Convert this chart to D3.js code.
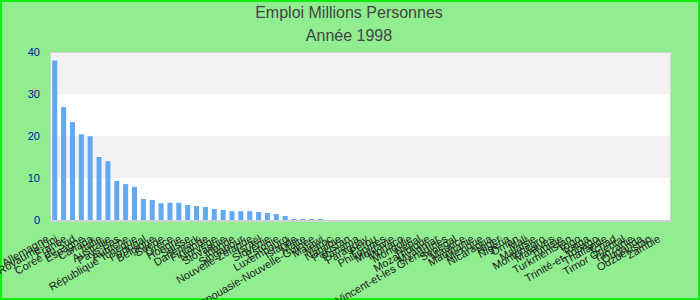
<!DOCTYPE html>
<html><head><meta charset="utf-8">
<script src="https://cdn.jsdelivr.net/npm/d3@7"></script>
<style>html,body{margin:0;padding:0;background:#90ee90;}svg{display:block;}</style>
</head><body>
<svg id="c" width="700" height="300"></svg>
<script>
const categories = ["Allemagne","Royaume-Uni","France","Corée du Sud","Espagne","Canada","Italie","Australie","Pays-Bas","Autriche",
"République Tchèque","Portugal","Belgique","Suède","Grèce","Hongrie","Suisse","Danemark","Finlande","Norvège",
"Slovaquie","Irlande","Singapour","Nouvelle-Zélande","Israël","Slovénie","Estonie","Luxembourg","Islande","Malte",
"Papouasie-Nouvelle-Guinée","Malawi","Maroc","Namibie","Pakistan","Panama","Paraguay","Pérou","Philippines","Moldavie",
"Monaco","Mongolie","Népal","Mozambique","Myanmar","Saint-Vincent-et-les Grenadines","Sénégal","Maurice","Mauritanie","Mexique",
"Nicaragua","Niger","Nigeria","Oman","Mali","Malaisie","Monténégro","Maldives","Tunisie","Turkménistan",
"Togo","Tonga","Trinité-et-Tobago","Thaïlande","Tchad","Timor Oriental","Tanzanie","Ouganda","Ouzbékistan","Zambie"];
const values = [38.0,26.9,23.3,20.4,19.95,15.0,14.0,9.3,8.55,7.9,
5.0,4.75,4.0,4.1,4.1,3.56,3.3,3.1,2.6,2.4,
2.1,2.1,2.1,1.9,1.65,1.4,0.95,0.24,0.24,0.24,
0.24,0,0,0,0,0,0,0,0,0,
0,0,0,0,0,0,0,0,0,0,
0,0,0,0,0,0,0,0,0,0,
0,0,0,0,0,0,0,0,0,0];
const yTicks = [0,10,20,30,40];
const title = "Emploi Millions Personnes";
const subtitle = "Année 1998";

const svg = d3.select("#c");
const W = 700, H = 300;
const L = 50, R = 671, T = 52, B = 220;

svg.append("rect").attr("x",1).attr("y",1).attr("width",W-2).attr("height",H-2)
  .attr("fill","#90ee90").attr("stroke","#11ee11").attr("stroke-width",2);

const x = d3.scaleBand().domain(categories).range([L,R]).paddingInner(0.43).paddingOuter(0.25);
const y = d3.scaleLinear().domain([0,40]).range([B,T]);

// bands
const bands = d3.pairs(yTicks);
svg.append("g").selectAll("rect").data(bands).join("rect")
  .attr("x",L).attr("width",R-L)
  .attr("y",d=>y(d[1])).attr("height",d=>y(d[0])-y(d[1]))
  .attr("fill",(d,i)=> i%2===0 ? "#ffffff" : "#f2f2f2");

svg.append("rect").attr("x",L+0.5).attr("y",T+0.5).attr("width",R-L-1).attr("height",B-T)
  .attr("fill","none").attr("stroke","#d4d4d4").attr("stroke-width",1);

// bars
svg.append("g").selectAll("rect").data(categories).join("rect")
  .attr("x",d=>x(d)).attr("width",x.bandwidth())
  .attr("y",(d,i)=>y(values[i])).attr("height",(d,i)=>B-y(values[i]))
  .attr("fill","#63a9f2");

// x axis line
svg.append("line").attr("x1",L).attr("x2",R).attr("y1",B+1).attr("y2",B+1)
  .attr("stroke","#d0d0d0").attr("stroke-width",2);

// y axis
const ya = svg.append("g").attr("transform",`translate(${L},0)`)
  .call(d3.axisLeft(y).tickValues(yTicks).tickSize(0).tickPadding(10));
ya.select(".domain").remove();
ya.selectAll("text").attr("fill","#0a0aa0").attr("font-family","Liberation Sans, Arial, sans-serif").attr("font-size","11px");

// x labels
svg.append("g").selectAll("text").data(categories).join("text")
  .attr("transform",d=>`translate(${x(d)+x.bandwidth()/2-5},241) rotate(-30)`)
  .attr("text-anchor","end")
  .attr("font-family","Liberation Sans, Arial, sans-serif").attr("font-size","11px")
  .attr("fill","#222")
  .text(d=>d);

// titles
svg.append("text").attr("x",349).attr("y",18).attr("text-anchor","middle")
  .attr("font-family","Liberation Sans, Arial, sans-serif").attr("font-size","16px").attr("fill","#444").text(title);
svg.append("text").attr("x",349).attr("y",41).attr("text-anchor","middle")
  .attr("font-family","Liberation Sans, Arial, sans-serif").attr("font-size","16px").attr("fill","#444").text(subtitle);
</script>
</body></html>
